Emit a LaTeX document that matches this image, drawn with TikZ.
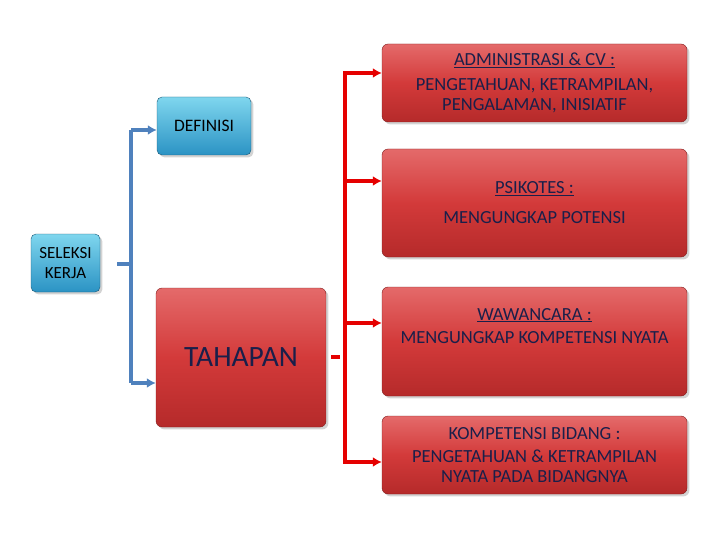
\documentclass[tikz,border=0pt]{standalone}
\usepackage{fontspec}
\setmainfont{Carlito}
\usetikzlibrary{shadows,arrows.meta}
\definecolor{txt}{HTML}{1A1F4A}
\definecolor{rtop}{HTML}{E46A6A}
\definecolor{rmid}{HTML}{D33A3A}
\definecolor{rbot}{HTML}{B52A2A}
\definecolor{btop}{HTML}{7FD6EE}
\definecolor{bbot}{HTML}{2B93C4}
\tikzset{
 redbox/.style={rounded corners=6pt, top color=rtop, bottom color=rbot, middle color=rmid, draw=rbot!70!black, drop shadow={opacity=0.35}, text=txt, align=center, inner sep=0pt},
 bluebox/.style={rounded corners=5pt, top color=btop, bottom color=bbot, draw=bbot!60!black, drop shadow={opacity=0.35}, text=black, align=center, inner sep=0pt},
 bconn/.style={draw={rgb,255:red,79;green,129;blue,189}, line width=4pt},
 rconn/.style={draw=red!90!black, line width=4pt},
 tip/.style={-{Latex[length=9pt,width=10pt]}},
}
\begin{document}
\begin{tikzpicture}[x=1pt,y=-1pt]
\useasboundingbox (0,0) rectangle (720,540);
\node[bluebox, minimum width=94pt, minimum height=58pt, font=\fontsize{17.5}{19}\selectfont] (def) at (204,126) {\raisebox{-2pt}{DEFINISI}};
\node[bluebox, minimum width=69pt, minimum height=58pt, font=\fontsize{17}{20}\selectfont] (sel) at (65.5,263) {SELEKSI\\KERJA};
\node[redbox, minimum width=170pt, minimum height=139pt, font=\fontsize{29.5}{32}\selectfont] (tah) at (241,357.5) {TAHAPAN};
\node[redbox, minimum width=305pt, minimum height=78pt, font=\fontsize{18.5}{20}\selectfont] (adm) at (534.5,83) {\underline{ADMINISTRASI \& CV :}\\[5pt]PENGETAHUAN, KETRAMPILAN,\\PENGALAMAN, INISIATIF};
\node[redbox, minimum width=305pt, minimum height=108pt, font=\fontsize{18.5}{20}\selectfont] (psi) at (534.5,203) {\underline{PSIKOTES :}\\[10pt]MENGUNGKAP POTENSI};
\node[redbox, minimum width=305pt, minimum height=109pt, font=\fontsize{18.5}{20}\selectfont] (waw) at (534.5,341.5) {\underline{WAWANCARA :}\\[3pt]MENGUNGKAP KOMPETENSI NYATA\\[12pt]\mbox{}};
\node[redbox, minimum width=305pt, minimum height=78pt, font=\fontsize{18.5}{20}\selectfont] (kom) at (534.5,455) {KOMPETENSI BIDANG :\\[3pt]PENGETAHUAN \& KETRAMPILAN\\NYATA PADA BIDANGNYA};
% blue connector
\coordinate (bs) at (117,264);
\coordinate (bm) at (131,264);
\draw[bconn] (bs) -- (bm);
\draw[bconn] (131,130) -- (131,383);
\draw[bconn,tip] (131,130) -- (def.west |- 0,130);
\draw[bconn,tip] (131,383) -- (tah.west |- 0,383);
% red connector
\draw[rconn] (331,357) -- (340,357);
\draw[rconn] (345,73) -- (345,462);
\draw[rconn,tip] (343,73) -- (adm.west |- 0,73);
\draw[rconn,tip] (343,181) -- (psi.west |- 0,181);
\draw[rconn,tip] (343,323) -- (waw.west |- 0,323);
\draw[rconn,tip] (343,462) -- (kom.west |- 0,462);
\end{tikzpicture}
\end{document}
